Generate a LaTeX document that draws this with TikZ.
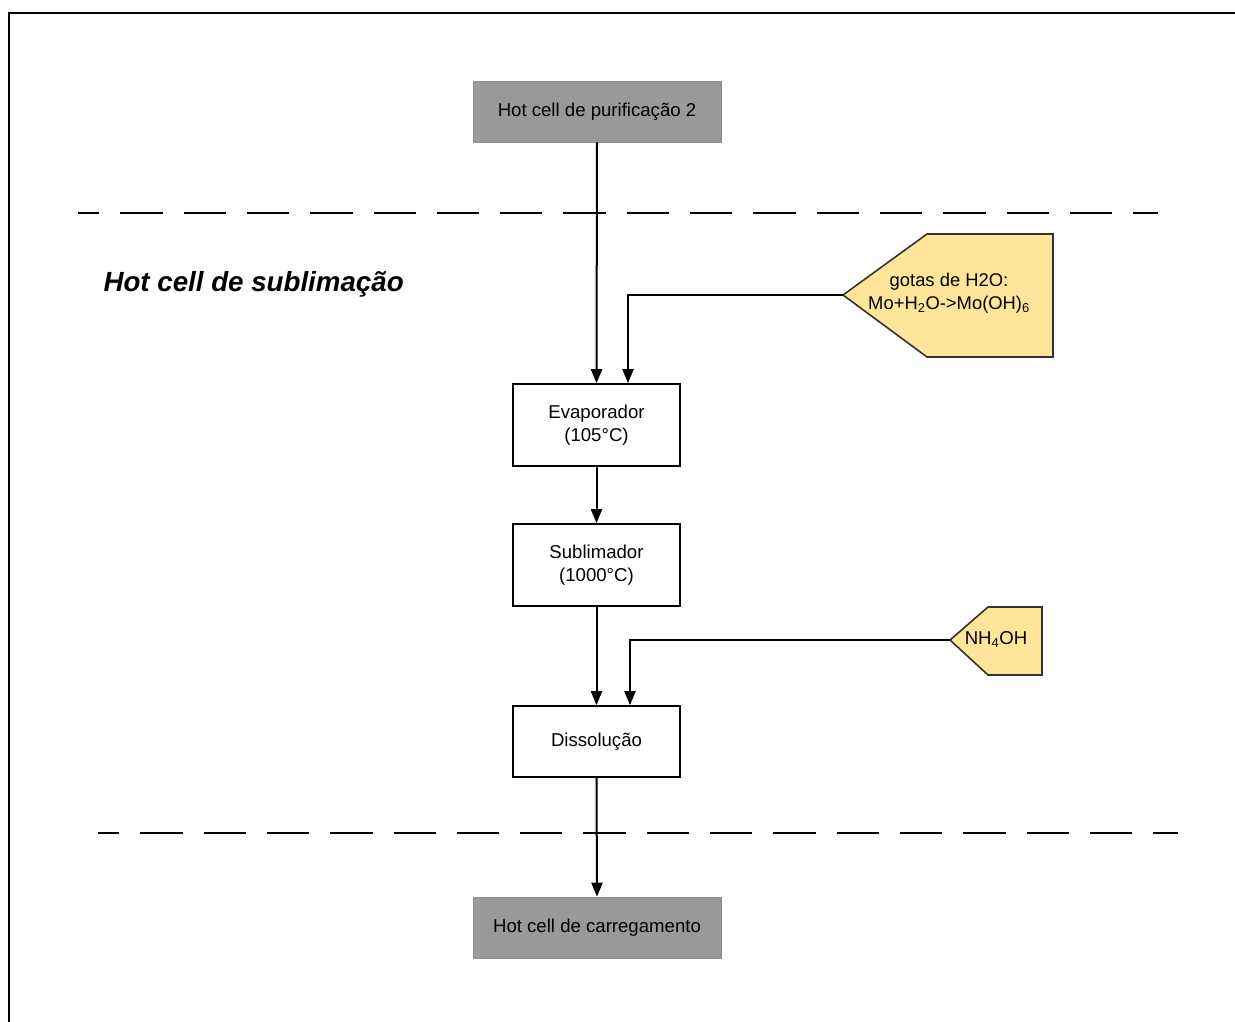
\documentclass[tikz,border=0pt]{standalone}
\usepackage{fontspec}
\setmainfont{Liberation Sans}
\usetikzlibrary{arrows.meta}
\definecolor{cellgray}{RGB}{153,153,153}
\definecolor{reagent}{RGB}{255,229,153}
\begin{document}
\begin{tikzpicture}[x=1pt,y=-1pt,
  cell/.style={fill=cellgray,draw=cellgray!90!black,line width=0.6pt,minimum width=248pt,minimum height=61pt,inner sep=0pt,font=\fontsize{18.6}{23}\selectfont},
  stagebox/.style={draw=black,fill=white,line width=1.6pt,minimum width=167pt,inner sep=0pt,align=center,font=\fontsize{18.6}{23}\selectfont},
  reagentbox/.style={draw=black!80,fill=reagent,line width=1.6pt},
  flow/.style={line width=2pt,-{Triangle[length=14pt,width=11pt]}},
  zone/.style={line width=2pt,dash pattern=on 42.3pt off 21pt}]
\useasboundingbox (0,0) rectangle (1235,1021);
% outer frame (top and left edges)
\draw[line width=2.2pt] (9,1030) -- (9,13) -- (1245,13);
% cell boundaries
\draw[zone,dash phase=21pt] (78,213) -- (1158,213);
\draw[zone,dash phase=21pt] (98,833) -- (1178,833);
\node[anchor=base west,font=\fontsize{27.7}{32}\selectfont\bfseries\itshape] (zonelabel) at (100,291) {Hot cell de sublimação};
% process nodes
\node[cell] (pur) at (597,111.5) {Hot cell de purificação 2};
\node[stagebox,minimum height=82pt] (evap) at (596.5,425) {Evaporador\\(105°C)};
\node[stagebox,minimum height=82pt] (subl) at (596.5,565) {Sublimador\\(1000°C)};
\node[stagebox,minimum height=71pt] (diss) at (596.5,741.5) {Dissolução};
\node[cell] (carr) at (597,927.5) {Hot cell de carregamento};
% reagent inputs
\draw[reagentbox] (843,295) -- (927,234) -- (1053,234) -- (1053,357) -- (927,357) -- cycle;
\coordinate (h2otip) at (843,295);
\node[align=center,font=\fontsize{18.4}{23}\selectfont] (h2o) at (949,293) {gotas de H2O:\\Mo+H\textsubscript{2}O->Mo(OH)\textsubscript{6}};
\draw[reagentbox] (950,640) -- (988,607) -- (1042,607) -- (1042,675) -- (988,675) -- cycle;
\coordinate (nhtip) at (950,640);
\node[font=\fontsize{18.6}{22}\selectfont] (nh4oh) at (996,639) {NH\textsubscript{4}OH};
% flow connectors
\draw[flow] (pur.south) -- (evap.north);
\draw[flow] (h2otip) -| ([xshift=31.5pt]evap.north);
\draw[flow] (evap.south) -- (subl.north);
\draw[flow] (subl.south) -- (diss.north);
\draw[flow] (nhtip) -| ([xshift=33.5pt]diss.north);
\draw[flow] (diss.south) -- (carr.north);
\end{tikzpicture}
\end{document}
